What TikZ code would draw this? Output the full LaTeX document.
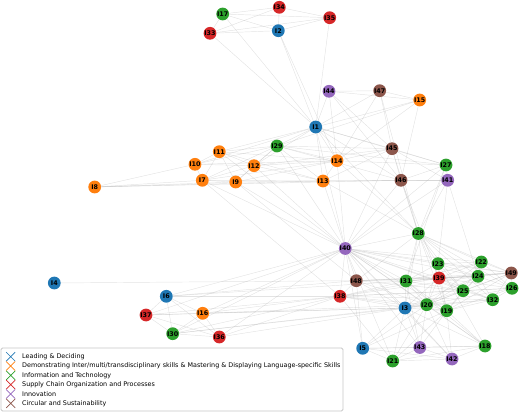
\documentclass[tikz,border=0pt]{standalone}
\usepackage{fontspec}
\setmainfont{DejaVu Sans}
\usetikzlibrary{backgrounds}
\definecolor{lead}{HTML}{1F77B4}
\definecolor{demo}{HTML}{FF7F0E}
\definecolor{info}{HTML}{2CA02C}
\definecolor{supply}{HTML}{D62728}
\definecolor{innov}{HTML}{9467BD}
\definecolor{circ}{HTML}{8C564B}
\definecolor{edgegray}{HTML}{A8A8A8}
\tikzset{
  item/.style={circle,fill=#1,inner sep=0pt,minimum size=12.8pt,
    font=\fontsize{6.4}{7}\selectfont\bfseries,text=black},
  link/.style={draw=edgegray,line width=.45pt,opacity=.32},
  legendframe/.style={draw=black!22,fill=white,rounded corners=1.5pt,line width=.8pt},
  legendtext/.style={anchor=west,inner sep=0pt,font=\fontsize{6.4}{7}\selectfont},
  crossmark/.style={line width=.7pt}}

\begin{document}
\begin{tikzpicture}[x=1pt,y=-1pt]
\useasboundingbox(0,0)rectangle(520,412);
% competence items
\foreach \n/\x/\y/\c in {1/315.7/127/lead,2/278.3/30.7/lead,3/405/308/lead,4/54.3/283/lead,
  5/362.7/348.3/lead,6/166.3/296.3/lead,7/202.3/180.3/demo,8/94.7/187/demo,9/235.7/182/demo,
  10/195/164.3/demo,11/219.3/151.7/demo,12/254/165.7/demo,13/323/181/demo,14/337/160.7/demo,
  15/419.7/100/demo,16/202.7/313.3/demo,17/222.7/14/info,18/485/346/info,19/446.7/310.7/info,
  20/426.7/304.7/info,21/392.7/361/info,22/481.3/262/info,23/438/263.7/info,24/478/276.3/info,
  25/463/290.7/info,26/512/288.3/info,27/446/165/info,28/418.3/233.5/info,29/277/146/info,
  30/172.7/333.7/info,31/406/281/info,32/492.7/299.7/info,33/210/33.3/supply,34/279.3/7.3/supply,
  35/329.7/17.7/supply,36/219.3/337/supply,37/146/315/supply,38/340/296.3/supply,39/439/278/supply,
  40/345.3/248.5/innov,41/447.7/180.3/innov,42/452/359/innov,43/419.8/347.5/innov,44/329/91.3/innov,
  45/392/148.7/circ,46/401/180.3/circ,47/379.7/90.7/circ,48/356.3/280.7/circ,49/511.3/273/circ}
  {\node[item=\c](I\n)at(\x,\y){I\n};}
% co-occurrence links
\begin{scope}[on background layer]
\foreach \a/\b in {33/17,33/34,33/35,33/2,17/34,17/35,17/2,34/35,34/2,2/35,33/1,17/1,2/1,35/1,2/14,
  1/44,1/47,1/15,1/45,1/29,1/14,1/13,1/40,1/12,1/11,1/10,1/46,1/27,1/28,
  44/47,44/15,44/14,44/45,44/46,47/15,47/14,47/28,47/45,15/14,15/29,15/46,
  45/14,45/13,45/29,45/27,45/41,45/46,45/40,45/28,45/12,
  14/29,14/12,14/13,14/40,14/27,14/9,14/7,14/10,14/11,14/28,
  13/29,13/40,13/12,13/9,13/7,13/8,13/46,13/41,13/28,13/11,
  29/12,29/9,29/7,29/11,29/10,29/40,29/27,29/46,
  11/10,11/7,11/9,11/12,10/7,10/12,7/9,7/12,9/12,8/10,8/7,8/9,8/46,
  7/40,9/40,12/40,11/40,7/38,9/48,
  46/41,46/27,46/28,46/40,46/39,27/41,27/28,27/40,27/31,41/28,41/40,41/23,41/24,
  28/40,28/23,28/22,28/24,28/39,28/31,28/25,28/20,28/19,28/3,28/49,28/26,28/32,28/48,
  40/48,40/38,40/31,40/39,40/23,40/24,40/22,40/25,40/20,40/19,40/3,40/5,40/21,40/43,
  40/42,40/18,40/32,40/6,40/16,40/36,40/30,40/37,40/49,4/48,
  6/37,6/30,6/16,6/36,6/38,6/48,6/31,37/16,37/30,37/36,37/38,37/3,
  16/30,16/36,16/38,16/3,16/20,30/36,30/38,30/3,30/20,36/38,36/3,
  48/38,48/31,48/39,48/24,48/49,48/3,48/20,48/5,48/25,
  38/31,38/39,38/3,38/20,38/19,38/25,38/24,38/26,38/32,38/21,
  31/39,31/23,31/24,31/3,31/20,31/19,31/25,31/22,31/49,31/43,
  23/39,23/22,23/24,23/49,23/25,23/20,23/19,
  39/24,39/22,39/49,39/25,39/26,39/20,39/19,39/3,39/32,
  22/24,22/49,22/26,22/25,22/20,24/49,24/26,24/25,24/32,24/20,24/19,24/3,
  49/26,49/25,49/32,49/20,49/19,26/32,26/25,26/19,26/20,25/32,25/20,25/19,25/3,
  32/19,32/20,32/3,3/20,3/19,3/5,3/21,3/43,3/42,3/18,
  20/19,20/5,20/21,20/43,20/42,20/18,19/5,19/21,19/43,19/42,19/18,
  5/21,5/43,5/42,5/18,21/43,21/42,21/18,43/42,43/18,42/18,18/23,18/31}
  {\draw[link](I\a)--(I\b);}
\end{scope}
% legend
\draw[legendframe](1,348)rectangle(343,411);
\foreach \c/\t [count=\i] in {lead/{Leading \& Deciding},
  demo/{Demonstrating Inter/multi/transdisciplinary skills \& Mastering \& Displaying Language-specific Skills},
  info/{Information and Technology},supply/{Supply Chain Organization and Processes},
  innov/{Innovation},circ/{Circular and Sustainability}}{
  \pgfmathsetmacro\ry{356.7+9.33*(\i-1)}
  \draw[crossmark,\c](6.2,\ry-4.5)--(15.2,\ry+4.5) (6.2,\ry+4.5)--(15.2,\ry-4.5);
  \node[legendtext](lg\i)at(22,\ry){\t};}
\end{tikzpicture}
\end{document}
